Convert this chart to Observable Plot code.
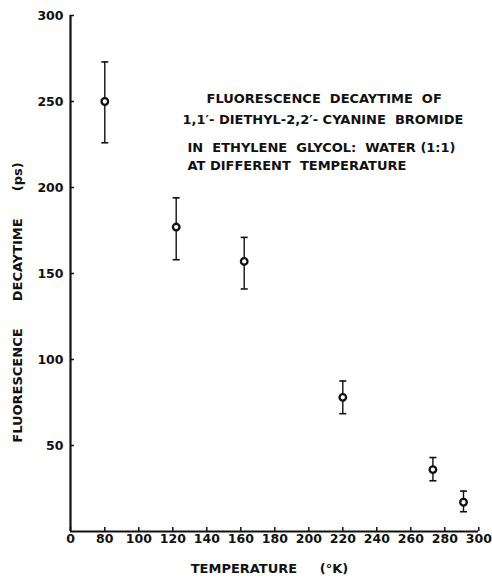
<!DOCTYPE html>
<html>
<head>
<meta charset="utf-8">
<script src="https://cdn.jsdelivr.net/npm/d3@7"></script>
<script src="https://cdn.jsdelivr.net/npm/@observablehq/plot@0.6"></script>
<style>
  body { margin: 0; background: white; }
  svg text { white-space: pre; }
</style>
</head>
<body>
<div id="chart"></div>
<script>
// Data
const temperature = [80, 122, 162, 220, 273, 291];      // °K
const decaytime   = [250, 177, 157, 78, 36, 17];        // ps
const errLow      = [226, 158, 141, 68.5, 29.5, 11.5];
const errHigh     = [273, 194, 171, 87.5, 43, 23.5];

const xTicks = [0, 80, 100, 120, 140, 160, 180, 200, 220, 240, 260, 280, 300];
const yTicks = [50, 100, 150, 200, 250, 300];

const titleLines = [
  "FLUORESCENCE  DECAYTIME  OF",
  "1,1\u2032- DIETHYL-2,2\u2032- CYANINE  BROMIDE",
  "IN  ETHYLENE  GLYCOL:  WATER (1:1)",
  "AT DIFFERENT  TEMPERATURE"
];
const xLabel = "TEMPERATURE     (\u00b0K)";
const yLabel = "FLUORESCENCE      DECAYTIME      (ps)";

const data = temperature.map((t, i) => ({T: t, tau: decaytime[i], lo: errLow[i], hi: errHigh[i]}));

// styles / layout
const titleOffsets = [[136, 83], [112, 104], [117, 132], [117, 150]];
const cap = { draw(ctx, size) { const w = 3.5; ctx.moveTo(-w, 0); ctx.lineTo(w, 0); } };

const chart = Plot.plot({
  width: 492,
  height: 579,
  marginLeft: 70,
  marginRight: 14,
  marginTop: 15,
  marginBottom: 48,
  style: {fontFamily: "DejaVu Sans", fontWeight: "bold", fontSize: "12.5px", color: "#111", background: "white"},
  x: {type: "linear", domain: [0, 80, 300], range: [70, 104.3, 478.3]},
  y: {domain: [0, 300]},
  marks: [
    Plot.axisX({ticks: xTicks, tickSize: -4, tickPadding: 7, label: null, strokeWidth: 1.5, tickFormat: d => String(d)}),
    Plot.axisY({ticks: yTicks, tickSize: -4, tickPadding: 11, label: null, strokeWidth: 1.5, tickFormat: d => String(d)}),
    Plot.ruleX([0], {strokeWidth: 2.2}),
    Plot.ruleY([0], {strokeWidth: 2.2}),
    Plot.ruleX(data, {x: "T", y1: "lo", y2: "hi", strokeWidth: 1.4}),
    Plot.dot(data, {x: "T", y: "lo", symbol: cap, r: 3, stroke: "#111", strokeWidth: 1.6}),
    Plot.dot(data, {x: "T", y: "hi", symbol: cap, r: 3, stroke: "#111", strokeWidth: 1.6}),
    Plot.dot(data, {x: "T", y: "tau", r: 3.3, stroke: "#111", strokeWidth: 2.3, fill: "white"}),
    ...titleLines.map((line, i) => Plot.text([line], {
      frameAnchor: "top-left", text: d => d, textAnchor: "start", lineAnchor: "middle",
      dx: titleOffsets[i][0], dy: titleOffsets[i][1], fontSize: 13, fontWeight: "bold"
    })),
    Plot.text([xLabel], {frameAnchor: "bottom", text: d => d, textAnchor: "middle", dx: -5, dy: 41, fontSize: 13, fontWeight: "bold"}),
    Plot.text([yLabel], {frameAnchor: "left", text: d => d, textAnchor: "middle", rotate: -90, dx: -53, dy: 29, fontSize: 13, fontWeight: "bold"})
  ]
});
document.getElementById("chart").appendChild(chart);
</script>
</body>
</html>
